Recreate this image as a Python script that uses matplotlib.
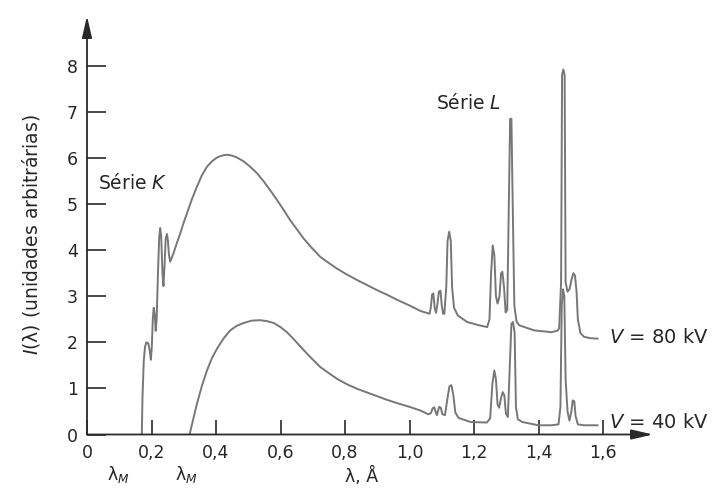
import matplotlib
matplotlib.use("Agg")
import matplotlib.pyplot as plt

plt.rcParams['font.family'] = ['DejaVu Sans']
plt.rcParams['mathtext.fontset'] = 'dejavusans'

# ---- data (wavelength in Å, intensity in arbitrary units) ----
lam80 = [0.170, 0.172, 0.176, 0.180, 0.184, 0.190, 0.195, 0.198, 0.201, 0.204, 0.207,
         0.210, 0.213, 0.216, 0.220, 0.224, 0.227, 0.230, 0.234, 0.237, 0.240, 0.244,
         0.248, 0.251, 0.254, 0.258, 0.268, 0.278, 0.289, 0.299, 0.310, 0.325, 0.341,
         0.356, 0.372, 0.388, 0.403, 0.418, 0.434, 0.450, 0.465, 0.485, 0.506, 0.527,
         0.548, 0.568, 0.589, 0.610, 0.630, 0.651, 0.672, 0.698, 0.724, 0.750, 0.775,
         0.806, 0.838, 0.869, 0.900, 0.931, 0.962,
         1.000, 1.034, 1.062, 1.066, 1.070, 1.074, 1.078, 1.082, 1.086, 1.091, 1.096,
         1.100, 1.104, 1.108, 1.114, 1.118, 1.123, 1.128, 1.132, 1.138, 1.150, 1.179,
         1.210, 1.241, 1.248, 1.253, 1.258, 1.263, 1.268, 1.273, 1.279, 1.284, 1.288,
         1.293, 1.298, 1.303, 1.308, 1.312, 1.316, 1.320, 1.325, 1.332, 1.340, 1.386,
         1.440, 1.458, 1.464, 1.470, 1.473, 1.477, 1.481, 1.484, 1.490, 1.496, 1.502,
         1.508, 1.513, 1.518, 1.522, 1.530, 1.541, 1.560, 1.583]
int80 = [0.00, 0.80, 1.60, 1.90, 2.00, 1.98, 1.80, 1.62, 1.90, 2.50, 2.75,
         2.60, 2.25, 2.50, 3.50, 4.30, 4.48, 4.30, 3.50, 3.22, 3.60, 4.25,
         4.35, 4.20, 3.90, 3.75, 3.93, 4.14, 4.36, 4.58, 4.80, 5.10, 5.38,
         5.62, 5.81, 5.93, 6.01, 6.05, 6.07, 6.05, 6.01, 5.93, 5.81, 5.67,
         5.49, 5.30, 5.09, 4.87, 4.65, 4.45, 4.25, 4.04, 3.85, 3.72, 3.60,
         3.47, 3.35, 3.24, 3.13, 3.03, 2.92,
         2.80, 2.68, 2.62, 2.75, 3.04, 3.06, 2.75, 2.64, 2.80, 3.10, 3.12,
         2.80, 2.62, 2.62, 3.20, 4.20, 4.40, 4.20, 3.20, 2.75, 2.58, 2.44,
         2.38, 2.33, 2.50, 3.50, 4.10, 3.90, 3.00, 2.84, 3.00, 3.50, 3.53,
         3.20, 2.65, 2.70, 5.00, 6.85, 6.85, 5.00, 2.80, 2.45, 2.37, 2.26,
         2.22, 2.25, 2.30, 3.30, 7.80, 7.92, 7.80, 3.30, 3.10, 3.15, 3.35,
         3.50, 3.45, 3.10, 2.50, 2.20, 2.12, 2.09, 2.08]

lam40 = [0.318, 0.330, 0.341, 0.356, 0.372, 0.387, 0.403, 0.423, 0.444, 0.465, 0.486,
         0.510, 0.537, 0.558, 0.579, 0.600, 0.620, 0.646, 0.672, 0.698, 0.724, 0.750,
         0.775, 0.806, 0.838, 0.869, 0.900, 0.931, 0.962,
         1.000, 1.034, 1.058, 1.066, 1.072, 1.077, 1.082,
         1.085, 1.088, 1.092, 1.097, 1.102, 1.110, 1.118, 1.124, 1.130, 1.136, 1.142,
         1.152, 1.190, 1.240, 1.250, 1.257, 1.263, 1.268, 1.273, 1.278, 1.284, 1.289,
         1.294, 1.299, 1.305, 1.311, 1.316, 1.321, 1.326, 1.330, 1.336, 1.350, 1.400,
         1.440, 1.462, 1.468, 1.472, 1.476, 1.480, 1.484, 1.490, 1.496, 1.502, 1.506,
         1.511, 1.515, 1.522, 1.540, 1.583]
int40 = [0.00, 0.35, 0.67, 1.05, 1.39, 1.65, 1.86, 2.08, 2.26, 2.36, 2.42,
         2.47, 2.48, 2.46, 2.42, 2.33, 2.22, 2.03, 1.83, 1.64, 1.46, 1.33,
         1.21, 1.09, 0.99, 0.91, 0.83, 0.75, 0.68,
         0.60, 0.52, 0.44, 0.46, 0.57, 0.59, 0.47,
         0.42, 0.50, 0.60, 0.58, 0.44, 0.42, 0.80, 1.05, 1.07, 0.85, 0.48,
         0.36, 0.27, 0.26, 0.35, 1.10, 1.39, 1.20, 0.65, 0.58, 0.80, 0.92,
         0.85, 0.45, 0.38, 1.50, 2.40, 2.44, 2.20, 0.60, 0.33, 0.27, 0.20,
         0.20, 0.22, 0.60, 2.80, 3.15, 3.00, 1.20, 0.50, 0.30, 0.50, 0.74,
         0.72, 0.40, 0.22, 0.20, 0.20]

xticks = [0, 0.2, 0.4, 0.6, 0.8, 1.0, 1.2, 1.4, 1.6]
xtick_labels = ["0", "0,2", "0,4", "0,6", "0,8", "1,0", "1,2", "1,4", "1,6"]
yticks = [0, 1, 2, 3, 4, 5, 6, 7, 8]
ytick_labels = ["0", "1", "2", "3", "4", "5", "6", "7", "8"]

curve_color = "#777777"
axis_color = "#2a2a2a"
text_color = "#262626"

fig = plt.figure(figsize=(7.17, 4.88), dpi=100)
ax = fig.add_axes([87 / 717, (488 - 434.5) / 488, 566 / 717, 418.5 / 488])
ax.set_xlim(0, 1.755)
ax.set_ylim(0, 9.08)

ax.plot(lam80, int80, color=curve_color, lw=1.4, solid_joinstyle='round')
ax.plot(lam40, int40, color=curve_color, lw=1.4, solid_joinstyle='round')

for s in ax.spines.values():
    s.set_visible(False)

arrow_kw = dict(arrowstyle='-|>,head_length=1.3,head_width=0.3', color=axis_color,
                lw=1.3, shrinkA=0, shrinkB=0)
ax.annotate('', xy=(0, 1), xytext=(0, 0), xycoords='axes fraction',
            textcoords='axes fraction', arrowprops=arrow_kw)
ax.annotate('', xy=(1, 0), xytext=(0, 0), xycoords='axes fraction',
            textcoords='axes fraction', arrowprops=arrow_kw)

ax.set_xticks(xticks)
ax.set_xticklabels(xtick_labels)
ax.set_yticks(yticks)
ax.set_yticklabels(ytick_labels)
ax.tick_params(axis='x', direction='in', length=11, width=1.2, pad=6.5,
               colors=axis_color, labelsize=12.5, labelcolor=text_color)
ax.tick_params(axis='y', direction='in', length=13.5, width=1.2, pad=6.5,
               colors=axis_color, labelsize=12.5, labelcolor=text_color)

ax.text(0.034, 5.45, r"Série $\mathit{K}$", fontsize=13.5, color=text_color,
        ha='left', va='center')
ax.text(1.082, 7.2, r"Série $\mathit{L}$", fontsize=13.5, color=text_color,
        ha='left', va='center')
ax.text(1.62, 2.11, r"$\mathit{V}$ = 80 kV", fontsize=14, color=text_color,
        ha='left', va='center', clip_on=False)
ax.text(1.62, 0.26, r"$\mathit{V}$ = 40 kV", fontsize=14, color=text_color,
        ha='left', va='center', clip_on=False)
ax.text(0.097, -0.86, r"λ$_{\mathit{M}}$", fontsize=12.5, color=text_color,
        ha='center', va='center', clip_on=False)
ax.text(0.308, -0.86, r"λ$_{\mathit{M}}$", fontsize=12.5, color=text_color,
        ha='center', va='center', clip_on=False)
ax.text(0.85, -0.90, "λ, Å", fontsize=12.5, color=text_color,
        ha='center', va='center', clip_on=False)

fig.text(31 / 717, 1 - 235 / 488, r"$\mathit{I}$(λ) (unidades arbitrárias)",
         rotation=90, fontsize=13.5, color=text_color, ha='center', va='center')

fig.savefig("out.png", dpi=100)
